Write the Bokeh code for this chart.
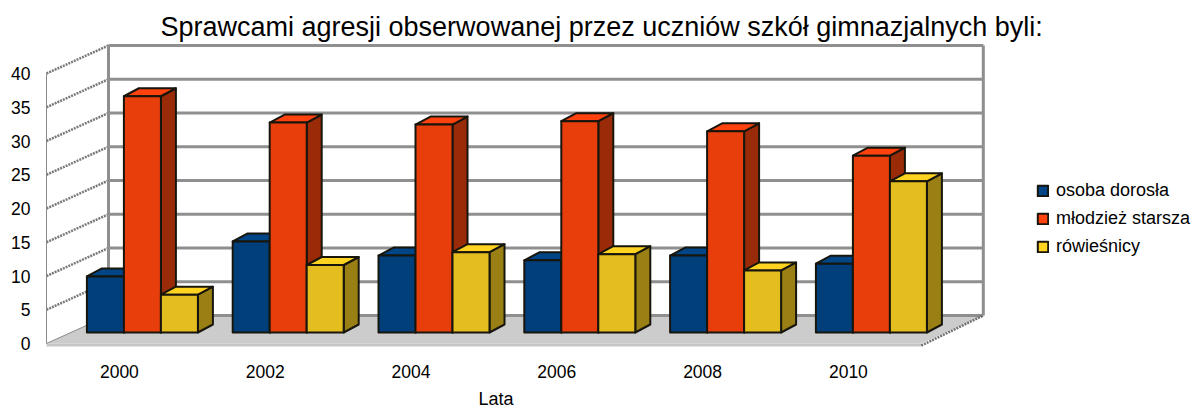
from bokeh.plotting import figure
from bokeh.embed import file_html
from bokeh.resources import INLINE
from bokeh.models import FixedTicker, Legend, LegendItem, Range1d, Title

title = "Sprawcami agresji obserwowanej przez uczniów szkół gimnazjalnych byli:"
x_title = "Lata"
years = [2000, 2002, 2004, 2006, 2008, 2010]
y_ticks = [0, 5, 10, 15, 20, 25, 30, 35, 40]
names = ["osoba dorosła", "młodzież starsza", "rówieśnicy"]
adult = [8.3, 13.5, 11.4, 10.7, 11.4, 10.2]
older = [35.0, 31.1, 30.8, 31.3, 29.8, 26.2]
peers = [5.6, 10.0, 11.9, 11.6, 9.2, 22.4]
series = [adult, older, peers]

front_col = ["#003f7a", "#e83e0c", "#e4bd1e"]
top_col = ["#004586", "#ff420e", "#ffd320"]
side_col = ["#002d59", "#9a2b09", "#9a8014"]
edge_col = "#17150c"
FONT = "Liberation Sans"

PX_X = 72.9   # px per year
PX_Y = 6.75   # px per value unit
W, H = 1192, 410
F_L, F_T, F_B = 40, 40, 355
X0_PX, Y0_PX = 118.9, 343

def ox(px): return px / PX_X
def oy(px): return px / PX_Y

p = figure(width=W, height=H, output_backend="svg", toolbar_location=None,
           frame_width=W - F_L, frame_height=F_B - F_T,
           x_range=Range1d(2000 + (F_L - X0_PX) / PX_X, 2000 + (W - X0_PX) / PX_X),
           y_range=Range1d(-(F_B - Y0_PX) / PX_Y, (Y0_PX - F_T) / PX_Y),
           min_border_left=F_L, min_border_right=0, min_border_top=F_T, min_border_bottom=H - F_B,
           title=title)
p.title.align = "left"
p.title.text_font = FONT
p.title.text_font_size = "27px"
p.title.text_font_style = "normal"
p.title.text_color = "#000000"
p.title.offset = 120
p.title.standoff = -2
p.outline_line_color = None
p.xgrid.visible = False
p.ygrid.visible = False

xl, xr = years[0] - 1, years[-1] + 1

p.xaxis.ticker = FixedTicker(ticks=years)
p.yaxis.ticker = FixedTicker(ticks=y_ticks)
for ax in (p.xaxis[0], p.yaxis[0]):
    ax.axis_line_color = None
    ax.major_tick_line_color = None
    ax.minor_tick_line_color = None
    ax.major_label_text_font = FONT
    ax.major_label_text_font_size = "17.5px"
    ax.major_label_text_color = "#000000"
p.xaxis[0].major_label_standoff = 3
p.yaxis[0].major_label_standoff = 4

p.add_layout(Title(text=x_title, align="left", offset=438, standoff=13, text_font=FONT,
                   text_font_size="18px", text_font_style="normal", text_color="#000000"), "below")

# chart box
DX, DY = ox(62), oy(28)
top = y_ticks[-1]
GRID = "#8f8f8f"

p.patch([xl, xr, xr + DX, xl + DX], [0, 0, DY, DY], fill_color="#cccccc", line_color=None)
p.line([xl, xr], [oy(-1.5), oy(-1.5)], line_color="#c6c6c6", line_width=3)
p.multi_line([[xl + DX, xr + DX] for _ in y_ticks], [[v + DY, v + DY] for v in y_ticks],
             line_color=GRID, line_width=3)
p.multi_line([[xl, xl + DX] for v in y_ticks[1:]], [[v, v + DY] for v in y_ticks[1:]],
             line_color="#7a7a7a", line_width=2.5, line_dash="2 1")
p.line([xl + DX, xl + DX], [DY, top + DY], line_color=GRID, line_width=3)
p.line([xr + DX, xr + DX], [DY, top + DY], line_color=GRID, line_width=3)
p.line([xl, xl], [0, top], line_color="#8a8a8a", line_width=1)
p.line([xl, xl + DX], [0, DY], line_color="#8a8a8a", line_width=1)
p.line([xr, xr + DX], [oy(-2), DY], line_color="#707070", line_width=2.5, line_dash="2 1")

# bars
BAR_W = 37
BAR_DX, BAR_DY = ox(15), oy(8)
SHIFT_X, SHIFT_Y = ox(23), oy(11)
base = SHIFT_Y
items = []
for s, vals in enumerate(series):
    left = [y + SHIFT_X + ox((s - 1.5) * BAR_W) for y in years]
    right = [l + ox(BAR_W) for l in left]
    tops = [v + SHIFT_Y for v in vals]
    lw = dict(line_color=edge_col, line_width=2, line_join="round")
    p.patches([[r, r + BAR_DX, r + BAR_DX, r] for r in right],
              [[base, base + BAR_DY, t + BAR_DY, t] for t in tops],
              fill_color=side_col[s], **lw)
    tr = p.patches([[l, l + BAR_DX, r + BAR_DX, r] for l, r in zip(left, right)],
                   [[t, t + BAR_DY, t + BAR_DY, t] for t in tops],
                   fill_color=top_col[s], **lw)
    p.quad(left=left, right=right, bottom=[base] * len(years), top=tops,
           fill_color=front_col[s], **lw)
    items.append(LegendItem(label=names[s], renderers=[tr]))

legend = Legend(items=items, location=(996, 98), orientation="vertical",
                background_fill_alpha=0, border_line_color=None, padding=0, margin=0,
                spacing=7, glyph_width=13, glyph_height=13, label_standoff=7,
                label_text_font=FONT, label_text_font_size="18px", label_text_color="#000000",
                label_height=20)
p.add_layout(legend)

open("out.html", "w").write(file_html(p, INLINE))
